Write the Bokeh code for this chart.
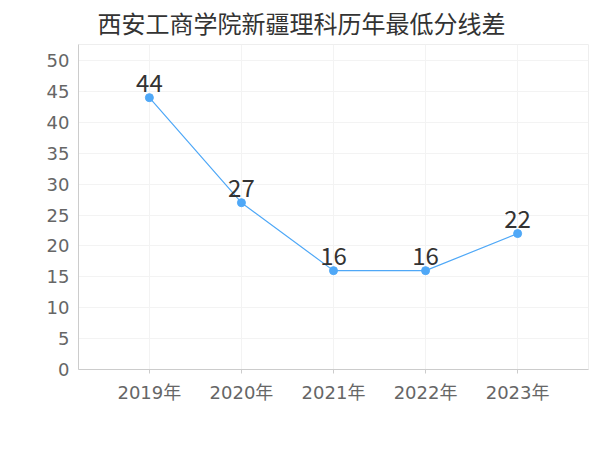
from bokeh.plotting import figure
from bokeh.models import (FactorRange, Range1d, SingleIntervalTicker, Legend, LegendItem,
                          ColumnDataSource, Title)
from bokeh.embed import file_html
from bokeh.resources import INLINE
from bokeh.core.properties import value

title_text = "西安工商学院新疆理科历年最低分线差"
years = ["2019年", "2020年", "2021年", "2022年", "2023年"]
series_name = "本科二批"
values = [44, 27, 16, 16, 22]

FONT = "DejaVu Sans, Noto Sans CJK SC"
CJK = "Noto Sans CJK SC"
LINE_COLOR = "#4fa8f7"

src = ColumnDataSource(data=dict(x=years, y=values, label=[str(v) for v in values]))

p = figure(frame_width=510, frame_height=325, output_backend="svg", toolbar_location=None,
           x_range=FactorRange(factors=years, range_padding=0.27, range_padding_units="absolute"),
           y_range=Range1d(0, 52.6),
           min_border_left=78, min_border_right=12, min_border_top=44, min_border_bottom=81)

p.title = Title(text=title_text, align="left", text_font=CJK, text_font_size="24px",
                text_color="#333333", text_font_style="normal", offset=19, standoff=7,
                vertical_align="middle")

p.outline_line_color = "#eeeeee"
p.background_fill_color = "white"
p.border_fill_color = "white"

p.yaxis.ticker = SingleIntervalTicker(interval=5)
p.yaxis.major_label_text_font = FONT
p.yaxis.major_label_text_font_size = "18px"
p.yaxis.major_label_text_color = "#666666"
p.yaxis.axis_line_color = "#cccccc"
p.yaxis.major_tick_line_color = "#cccccc"
p.yaxis.major_tick_in = 0
p.yaxis.major_tick_out = 0
p.yaxis.major_label_standoff = 5
p.yaxis.minor_tick_line_color = None

p.xaxis.major_label_text_font = FONT
p.xaxis.major_label_text_font_size = "18px"
p.xaxis.major_label_text_color = "#666666"
p.xaxis.axis_line_color = "#cccccc"
p.xaxis.major_tick_line_color = "#cccccc"
p.xaxis.major_tick_in = 0
p.xaxis.major_tick_out = 4
p.xaxis.major_label_standoff = 8

p.xgrid.grid_line_color = "#f3f3f3"
p.ygrid.grid_line_color = "#f3f3f3"

line = p.line("x", "y", source=src, line_color=LINE_COLOR, line_width=1.2)
dots = p.scatter("x", "y", source=src, size=8, fill_color=LINE_COLOR, line_color=LINE_COLOR)

p.text("x", "y", text="label", source=src, text_font=value(CJK), text_font_size="24px",
       text_color="#333333", text_align="center", text_baseline="alphabetic", y_offset=-15)

legend = Legend(items=[LegendItem(label=series_name, renderers=[line, dots])],
                orientation="horizontal", location="top_center",
                label_text_font=CJK, label_text_font_size="22px", label_text_color="#333333",
                border_line_color=None, background_fill_alpha=0,
                glyph_width=17, label_standoff=1, label_width=156, margin=15, padding=0)
p.add_layout(legend, "below")

open("out.html", "w").write(file_html(p, INLINE))
